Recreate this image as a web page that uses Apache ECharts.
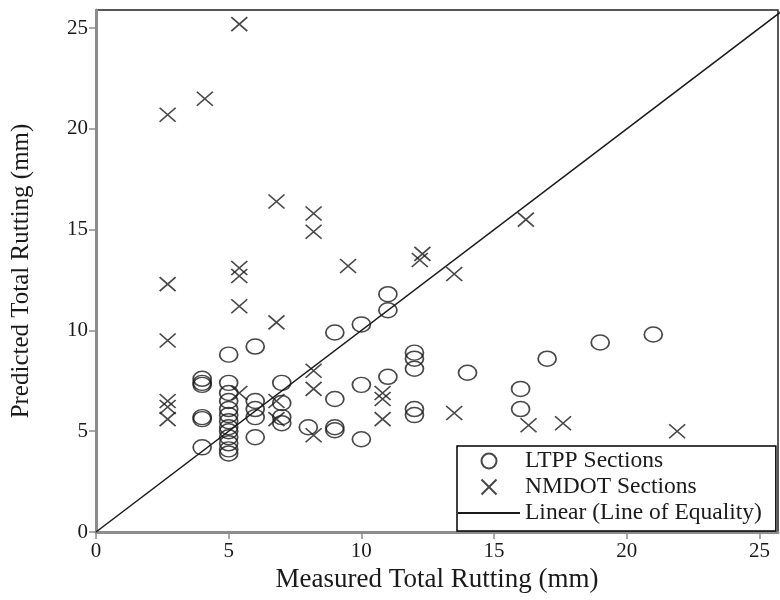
<!DOCTYPE html>
<html>
<head>
<meta charset="utf-8">
<script src="https://cdn.jsdelivr.net/npm/echarts@6/dist/echarts.min.js"></script>
<style>
  html, body { margin: 0; padding: 0; background: #fff; }
  #chart { width: 780px; height: 600px; }
</style>
</head>
<body>
<div id="chart"></div>
<script>
// Measured vs predicted total rutting (mm)
const ltppMeasured = [
  4, 4, 4, 4, 4, 4,
  5, 5, 5, 5, 5, 5, 5, 5, 5, 5, 5, 5, 5,
  6, 6, 6, 6, 6,
  7, 7, 7, 7,
  8,
  9, 9, 9, 9,
  10, 10, 10,
  11, 11, 11,
  12, 12, 12, 12, 12,
  14, 16, 16, 17, 19, 21
];
const ltppPredicted = [
  7.6, 7.4, 5.7, 5.6, 4.2, 7.3,
  8.8, 7.4, 6.9, 6.5, 6.1, 5.8, 5.5, 5.2, 5.0, 4.7, 4.4, 4.1, 3.9,
  9.2, 6.5, 6.1, 5.7, 4.7,
  7.4, 6.4, 5.7, 5.4,
  5.2,
  9.9, 6.6, 5.2, 5.05,
  10.3, 7.3, 4.6,
  11.8, 11.0, 7.7,
  8.9, 8.6, 8.1, 6.1, 5.8,
  7.9, 7.1, 6.1, 8.6, 9.4, 9.8
];

const nmdotMeasured = [
  2.7, 2.7, 2.7, 2.7, 2.7, 2.7,
  4.1,
  5.4, 5.4, 5.4, 5.4, 5.4,
  6.8, 6.8, 6.8, 6.8,
  8.2, 8.2, 8.2, 8.2, 8.2,
  9.5,
  10.8, 10.8, 10.8,
  12.2, 12.3,
  13.5, 13.5,
  16.2, 16.3, 17.6, 21.9
];
const nmdotPredicted = [
  20.7, 12.3, 9.5, 6.5, 6.2, 5.6,
  21.5,
  25.2, 13.1, 12.7, 11.2, 6.9,
  16.4, 10.4, 6.5, 5.6,
  15.8, 14.9, 8.0, 7.1, 4.8,
  13.2,
  6.9, 6.6, 5.6,
  13.5, 13.8,
  12.8, 5.9,
  15.5, 5.3, 5.4, 5.0
];

const equalityLine = [0, 26];
const xTicks = [0, 5, 10, 15, 20, 25];
const yTicks = [0, 5, 10, 15, 20, 25];

const pair = (xs, ys) => xs.map((x, i) => [x, ys[i]]);
const FONT = '"Liberation Serif", "DejaVu Serif", serif';
const CROSS = 'path://M0,0L10,10M10,0L0,10';
const INK = '#1a1a1a';

const axisCommon = (ticks) => ({
  type: 'value',
  min: 0,
  interval: 5,
  splitLine: { show: false },
  axisLine: { show: true, lineStyle: { color: '#8c8c8c', width: 3 } },
  axisTick: {
    show: true, inside: false, length: 7,
    customValues: ticks,
    lineStyle: { color: '#8c8c8c', width: 1.5 }
  },
  axisLabel: {
    color: INK, fontFamily: FONT, fontSize: 21,
    customValues: ticks,
    formatter: v => String(v)
  },
  nameLocation: 'middle',
  nameTextStyle: { color: INK, fontFamily: FONT }
});

const chart = echarts.init(document.getElementById('chart'), null, { renderer: 'canvas' });
chart.setOption({
  animation: false,
  backgroundColor: '#fff',
  grid: {
    left: 96, right: 2, top: 10, bottom: 68,
    show: true, borderColor: '#222', borderWidth: 1.5, backgroundColor: 'transparent'
  },
  xAxis: Object.assign(axisCommon(xTicks), {
    max: 25.7,
    name: 'Measured Total Rutting (mm)',
    nameGap: 33,
    nameTextStyle: { color: INK, fontFamily: FONT, fontSize: 27 },
    axisLabel: Object.assign(axisCommon(xTicks).axisLabel, { margin: 9 })
  }),
  yAxis: Object.assign(axisCommon(yTicks), {
    max: 25.9,
    name: 'Predicted Total Rutting (mm)',
    nameGap: 62,
    nameTextStyle: { color: INK, fontFamily: FONT, fontSize: 25 }
  }),
  legend: {
    orient: 'vertical',
    left: 457, top: 446,
    backgroundColor: '#fff',
    borderColor: '#000', borderWidth: 1.5, borderRadius: 0,
    padding: [3, 14, 6, 0],
    itemWidth: 62, itemHeight: 15, itemGap: 2,
    textStyle: { fontFamily: FONT, fontSize: 23.5, color: INK },
    data: ['LTPP Sections', 'NMDOT Sections', 'Linear (Line of Equality)']
  },
  series: [
    {
      name: 'LTPP Sections',
      type: 'scatter',
      symbol: 'circle',
      symbolSize: [18, 15],
      itemStyle: { color: 'rgba(0,0,0,0)', borderColor: INK, borderWidth: 1.6 },
      data: pair(ltppMeasured, ltppPredicted),
      z: 3
    },
    {
      name: 'NMDOT Sections',
      type: 'scatter',
      symbol: CROSS,
      symbolSize: [16, 14],
      itemStyle: { color: 'rgba(0,0,0,0)', borderColor: INK, borderWidth: 1.6 },
      data: pair(nmdotMeasured, nmdotPredicted),
      z: 3
    },
    {
      name: 'Linear (Line of Equality)',
      type: 'line',
      symbol: 'none',
      clip: true,
      itemStyle: { color: 'rgba(0,0,0,0)', borderWidth: 0 },
      lineStyle: { color: INK, width: 1.5 },
      data: equalityLine.map(v => [v, v]),
      z: 2
    }
  ]
});
</script>
</body>
</html>
